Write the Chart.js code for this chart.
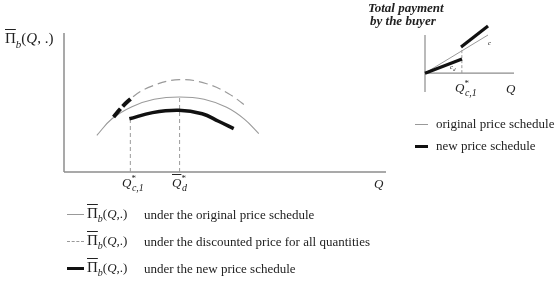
<!DOCTYPE html>
<html>
<head>
<meta charset="utf-8">
<script src="https://cdn.jsdelivr.net/npm/chart.js@4.4.1/dist/chart.umd.min.js"></script>
<style>
html,body{margin:0;padding:0;background:#fff;width:555px;height:288px;overflow:hidden;position:relative;font-family:"Liberation Serif","Times New Roman",serif;color:#222;}
canvas{position:absolute;left:0;top:0;}
.t{position:absolute;white-space:nowrap;font-size:13px;line-height:1;}
.ov{text-decoration:overline;}
.sup{position:relative;font-size:9px;top:-6px;}
.sub{position:relative;font-size:10px;top:4px;font-style:italic;}
.sw{position:absolute;}
</style>
</head>
<body>
<canvas id="main" width="555" height="288"></canvas>
<canvas id="inset" width="555" height="288"></canvas>

<!-- main axis labels -->
<div class="t" style="left:5px;top:31px;font-size:15px;"><span class="ov">Π</span><span class="sub" style="font-size:11px;top:5px;">b</span><span>(<i>Q</i>, .)</span></div>
<div class="t" style="left:122px;top:176px;"><i>Q</i><span class="sup">*</span><span class="sub" style="margin-left:-4px;">c,1</span></div>
<div class="t" style="left:172px;top:176px;"><i class="ov">Q</i><span class="sup">*</span><span class="sub" style="margin-left:-4px;">d</span></div>
<div class="t" style="left:374px;top:177px;"><i>Q</i></div>

<!-- bottom legend -->
<div class="sw" style="left:67px;top:214px;width:17px;border-top:1px solid #999;"></div>
<div class="t" style="left:87px;top:206px;"><span class="ov" style="font-size:15px;">Π</span><span class="sub" style="font-size:10px;">b</span>(<i>Q</i>,.)</div>
<div class="t" style="left:144px;top:208px;">under the original price schedule</div>

<div class="sw" style="left:67px;top:241px;width:17px;border-top:1px dashed #999;"></div>
<div class="t" style="left:87px;top:233px;"><span class="ov" style="font-size:15px;">Π</span><span class="sub" style="font-size:10px;">b</span>(<i>Q</i>,.)</div>
<div class="t" style="left:144px;top:235px;">under the discounted price for all quantities</div>

<div class="sw" style="left:67px;top:267px;width:17px;border-top:3px solid #111;"></div>
<div class="t" style="left:87px;top:260px;"><span class="ov" style="font-size:15px;">Π</span><span class="sub" style="font-size:10px;">b</span>(<i>Q</i>,.)</div>
<div class="t" style="left:144px;top:262px;">under the new price schedule</div>

<!-- inset texts -->
<div class="t" style="left:368px;top:1px;font-style:italic;font-weight:bold;">Total payment</div>
<div class="t" style="left:370px;top:14px;font-style:italic;font-weight:bold;">by the buyer</div>
<div class="t" style="left:455px;top:81px;"><i>Q</i><span class="sup">*</span><span class="sub" style="margin-left:-4px;">c,1</span></div>
<div class="t" style="left:506px;top:82px;"><i>Q</i></div>
<div class="t" style="left:488px;top:40px;font-size:7px;font-style:italic;">c</div>
<div class="t" style="left:450px;top:64px;font-size:7px;font-style:italic;">c<span style="font-size:5px;position:relative;top:2px;">d</span></div>

<div class="sw" style="left:415px;top:124px;width:13px;border-top:1px solid #999;"></div>
<div class="t" style="left:436px;top:117px;">original price schedule</div>
<div class="sw" style="left:415px;top:145px;width:13px;border-top:3px solid #111;"></div>
<div class="t" style="left:436px;top:139px;">new price schedule</div>

<script>
// ---- main chart data (Q on 0..100 axis, buyer profit on 0..100 axis) ----
const originalCurve = [[10.2,26.4],[14.9,38.3],[21.1,47.0],[28.0,52.3],[35.8,54.0],[43.5,52.3],[50.5,46.5],[56.0,38.0],[60.5,27.6]];
const discountedCurve = [[15.4,39.6],[21.1,53.5],[27.3,61.8],[35.8,66.5],[44.3,63.5],[51.0,56.5],[56.8,47.0]];
const newScheduleDashed = [[15.4,39.6],[18.2,47.2],[21.1,53.5]];
const newScheduleCurve = [[20.3,38.3],[27.5,42.7],[35.6,44.4],[42.9,41.9],[48.0,36.5],[52.7,31.2]];
const qc1 = 20.6, qc1Top = 38.3;
const qd = 35.9, qdTop = 54.0;
const mainXMax = 100, mainYMax = 100;

// ---- inset data (quantity 0..100, total payment) ----
const insetOriginal = [[0,0],[70.8,80.9]];
const insetNewLow = [[0,0],[41.6,29.8]];
const insetNewHigh = [[40.5,55.3],[70.8,100]];
const insetQc = 41.4, insetQcTop = 55.3;
const insetXMax = 100, insetYMin = -40, insetYMax = 100, insetYAxisTop = 80.9;

const pts = a => a.map(p => ({x:p[0], y:p[1]}));
const AX = '#8c8c8c', GR = '#9a9a9a', BK = '#111';

// "order": higher values are drawn first (underneath)
function ds(data, color, width, dash, smooth, order){
  return {data: pts(data), borderColor: color, borderWidth: width, borderDash: dash || [],
          pointRadius: 0, showLine: true, fill: false, clip: false,
          tension: smooth ? 0.4 : 0, order: order};
}
function opts(pad, xmin, xmax, ymin, ymax){
  return {responsive:false, animation:false, devicePixelRatio:1,
    layout:{padding:pad},
    plugins:{legend:{display:false}, tooltip:{enabled:false}},
    scales:{x:{type:'linear', display:false, min:xmin, max:xmax},
            y:{type:'linear', display:false, min:ymin, max:ymax}},
    elements:{line:{borderCapStyle:'butt'}}};
}

new Chart(document.getElementById('main'), {
  type:'line',
  data:{datasets:[
    ds([[0,0],[0,mainYMax]], AX, 1.5, null, false, 5),
    ds([[0,0],[mainXMax,0]], AX, 1.5, null, false, 5),
    ds([[qc1,0],[qc1,qc1Top]], GR, 1, [4,3], false, 4),
    ds([[qd,0],[qd,qdTop]], GR, 1, [4,3], false, 4),
    ds(originalCurve, GR, 1.1, null, true, 3),
    ds(discountedCurve, GR, 1.2, [9,5], true, 3),
    ds(newScheduleDashed, BK, 4, [11,3], true, 1),
    ds(newScheduleCurve, BK, 3.5, null, true, 1)
  ]},
  options: opts({left:64, right:555-386, top:33, bottom:288-172}, 0, mainXMax, 0, mainYMax)
});

new Chart(document.getElementById('inset'), {
  type:'line',
  data:{datasets:[
    ds([[0,insetYMin],[0,insetYAxisTop]], AX, 1.2, null, false, 5),
    ds([[0,0],[insetXMax,0]], AX, 1.2, null, false, 5),
    ds([[insetQc,0],[insetQc,insetQcTop]], GR, 1, [3,2], false, 4),
    ds(insetOriginal, GR, 1, null, false, 3),
    ds(insetNewLow, BK, 3.2, null, false, 1),
    ds(insetNewHigh, BK, 3.2, null, false, 1)
  ]},
  options: opts({left:425, right:555-514, top:26, bottom:288-92}, 0, insetXMax, insetYMin, insetYMax)
});
</script>
</body>
</html>
